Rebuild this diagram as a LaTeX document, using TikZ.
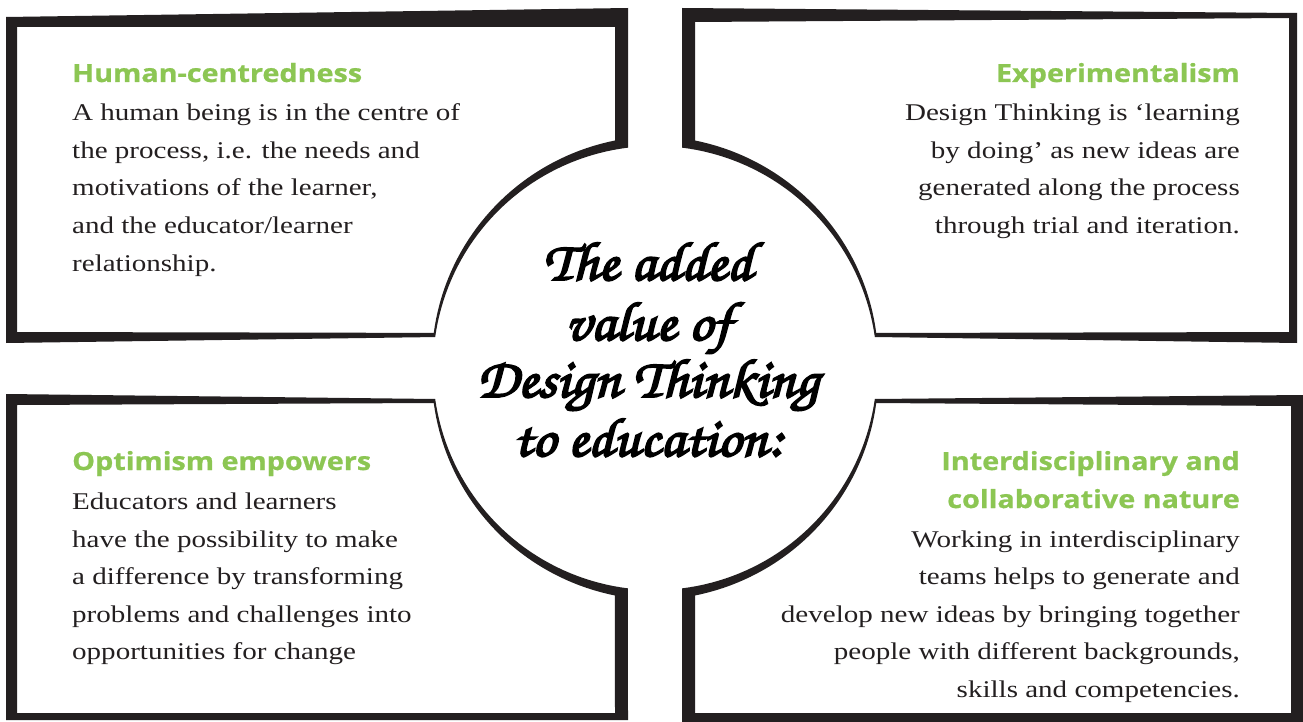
\documentclass[tikz,border=0pt]{standalone}
\usepackage{fontspec}
\setmainfont{Liberation Serif}
\newfontfamily\bodyfont{Liberation Serif}[FakeStretch=1.21]
\newfontfamily\headfont{Open Sans}[FakeStretch=1.15, FakeBold=0.8]
\newfontfamily\brushfont{TeX Gyre Chorus}[FakeBold=3.5, FakeStretch=1.06]
\definecolor{ink}{HTML}{231F20}
\definecolor{leaf}{HTML}{8CC653}
\begin{document}
\begin{tikzpicture}[x=1pt,y=-1pt,
  frame/.style={fill=ink, even odd rule},
  head/.style={font=\headfont\bfseries\fontsize{25}{25}\selectfont, text=leaf, inner sep=0pt},
  body/.style={font=\bodyfont\fontsize{24}{24}\selectfont, text=ink, inner sep=0pt},
  brush/.style={font=\brushfont\fontsize{55}{55}\selectfont, text=black, inner sep=0pt,
    text height=32pt, text depth=8pt}]
\useasboundingbox (0,0) rectangle (1303,722);
\fill[white] (0,0) rectangle (1303,722);

% top-left frame
\fill[frame] (6,17) -- (628,8) -- (628,147.6)
  -- plot[domain=0:1,samples=40,variable=\q] ({655+222*cos(-97-75*\q)},{368+222*sin(-97-75*\q)})
  -- (6,343) -- cycle
  (17,27) -- (615,27) -- (615,140.5)
  -- plot[domain=0:1,samples=40,variable=\q] ({655+(231-7*\q)*cos(-100-71*\q)},{368+(231-7*\q)*sin(-100-71*\q)})
  -- (17,332) -- cycle;
% top-right frame
\fill[frame] (682,8) -- (1297,13) -- (1297,343) -- (874.8,337)
  -- plot[domain=0:1,samples=40,variable=\q] ({655+222*cos(-8-75*\q)},{368+222*sin(-8-75*\q)})
  -- cycle
  (695,22) -- (1289,18) -- (1289,332) -- (876.2,333)
  -- plot[domain=0:1,samples=40,variable=\q] ({655+(224+7*\q)*cos(-9-71*\q)},{368+(224+7*\q)*sin(-9-71*\q)})
  -- cycle;
% bottom-left frame
\fill[frame] (6,394) -- (435.2,399)
  -- plot[domain=0:1,samples=40,variable=\q] ({655+222*cos(172-75*\q)},{368+222*sin(172-75*\q)})
  -- (628,720) -- (6,720) -- cycle
  (17,405) -- (433.8,403)
  -- plot[domain=0:1,samples=40,variable=\q] ({655+(224+7*\q)*cos(171-71*\q)},{368+(224+7*\q)*sin(171-71*\q)})
  -- (615,713) -- (17,713) -- cycle;
% bottom-right frame
\fill[frame] (1303,395) -- (874.8,399)
  -- plot[domain=0:1,samples=40,variable=\q] ({655+222*cos(8+75*\q)},{368+222*sin(8+75*\q)})
  -- (682,722) -- (1303,722) -- cycle
  (1291,406) -- (876.2,403)
  -- plot[domain=0:1,samples=40,variable=\q] ({655+(224+7*\q)*cos(9+71*\q)},{368+(224+7*\q)*sin(9+71*\q)})
  -- (695,713) -- (1291,713) -- cycle;

% top-left text
\node[head, anchor=base west] (tlh) at (72,82) {Human-centredness};
\foreach \l [count=\i] in {A human being is in the centre of,
  {the process, i.e. the needs and},
  {motivations of the learner,},
  and the educator/learner,
  relationship.}
  \node[body, anchor=base west] (tl-\i) at (72,{121+37.5*(\i-1)}) {\l};

% top-right text
\node[head, anchor=base east] (trh) at (1240,82) {Experimentalism};
\foreach \l [count=\i] in {Design Thinking is ‘learning,
  by doing’ as new ideas are,
  generated along the process,
  through trial and iteration.}
  \node[body, anchor=base east] (tr-\i) at (1240,{121+37.5*(\i-1)}) {\l};

% bottom-left text
\node[head, anchor=base west] (blh) at (72,470) {Optimism empowers};
\foreach \l [count=\i] in {Educators and learners,
  have the possibility to make,
  a difference by transforming,
  problems and challenges into,
  opportunities for change}
  \node[body, anchor=base west] (bl-\i) at (72,{509.5+37.5*(\i-1)}) {\l};

% bottom-right text
\node[head, anchor=base east] (brh1) at (1240,470) {Interdisciplinary and};
\node[head, anchor=base east] (brh2) at (1240,508) {collaborative nature};
\foreach \l [count=\i] in {Working in interdisciplinary,
  teams helps to generate and,
  develop new ideas by bringing together,
  {people with different backgrounds,},
  skills and competencies.}
  \node[body, anchor=base east] (br-\i) at (1240,{547+37.5*(\i-1)}) {\l};

% centre title
\node[brush, anchor=base] (c1) at (648,280) {The added};
\node[brush, anchor=base] (c2) at (648,340) {value of};
\node[brush, anchor=base] (c3) at (648,397) {Design Thinking};
\node[brush, anchor=base] (c4) at (648,456) {to education:};
\end{tikzpicture}
\end{document}
